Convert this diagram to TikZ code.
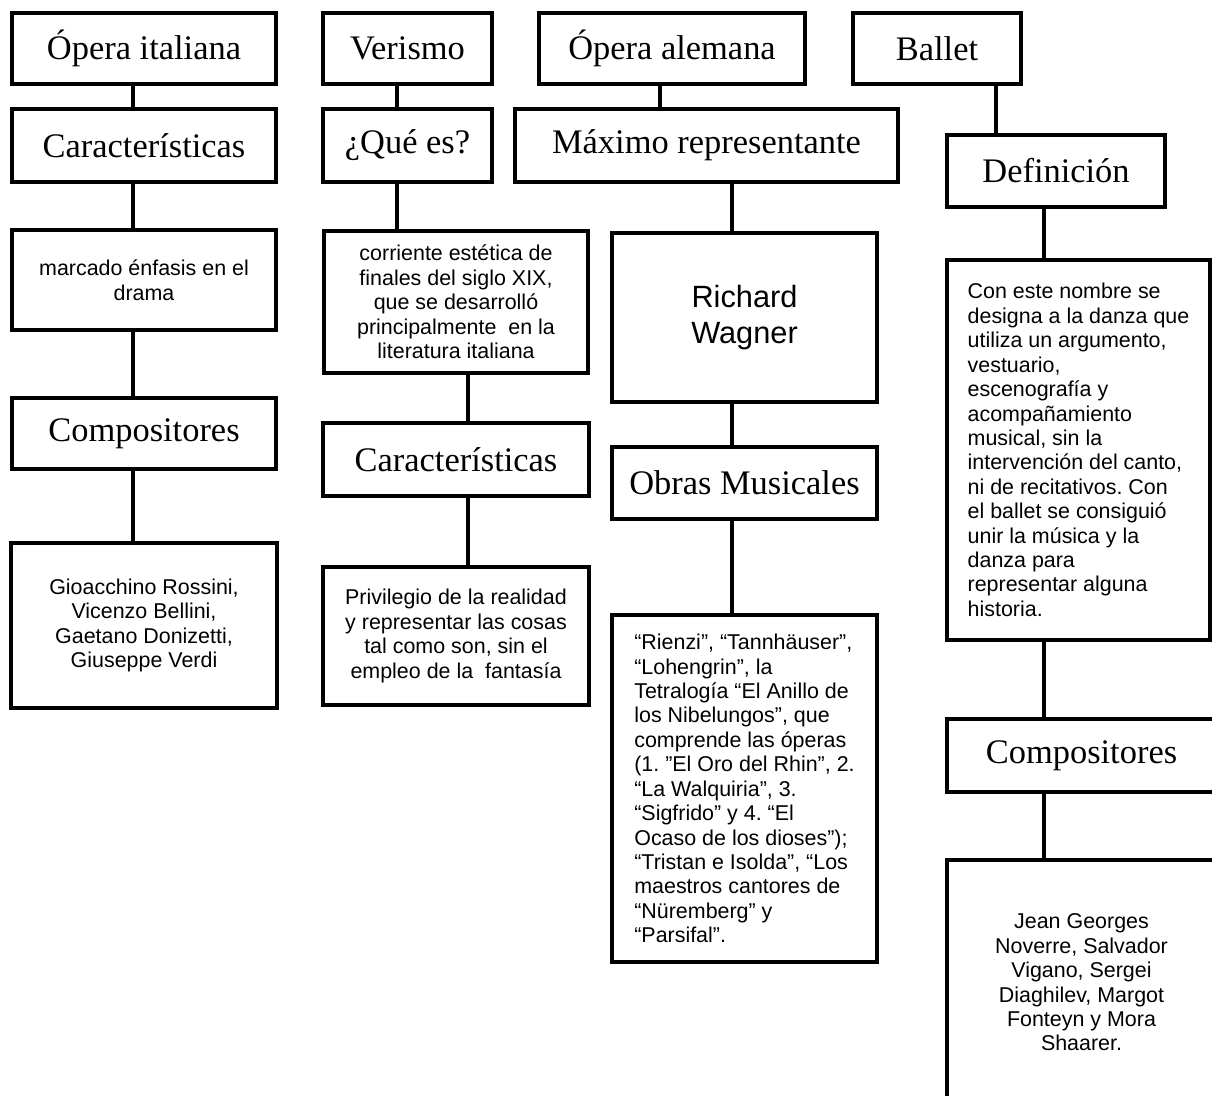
\documentclass[tikz,border=0pt]{standalone}
\usepackage{fontspec}
\setmainfont{Liberation Serif}
\setsansfont{Liberation Sans}
\usepackage{tikz}
\usetikzlibrary{shadows}
\pgfdeclarelayer{edgelayer}
\pgfdeclarelayer{nodelayer}
\pgfsetlayers{edgelayer,nodelayer,main}
\frenchspacing
\tikzstyle{head} = [draw, rectangle, line width=2.2pt, fill=white, inner sep=0pt, font=\fontsize{19.6}{23}\selectfont, drop shadow={shadow xshift=1.2pt, shadow yshift=-1.2pt, opacity=0.3}]
\tikzstyle{info} = [draw, rectangle, line width=2.2pt, fill=white, inner sep=0pt, align=center, font=\sffamily\fontsize{12.2}{13.9}\selectfont, drop shadow={shadow xshift=1.2pt, shadow yshift=-1.2pt, opacity=0.3}]
\tikzstyle{infoleft} = [info, align=left]
\tikzstyle{link} = [line width=2.2pt]

\begin{document}
\begin{tikzpicture}[x=0.02cm, y=-0.02cm]
	\useasboundingbox (0, 0) rectangle (1212, 1095);
	\begin{pgfonlayer}{nodelayer}
		\node [style=head, minimum width=5.28cm, minimum height=1.42cm] (0) at (144, 48.5) {Ópera italiana};
		\node [style=head, minimum width=3.38cm, minimum height=1.42cm] (1) at (407.5, 48.5) {Verismo};
		\node [style=head, minimum width=5.32cm, minimum height=1.42cm] (2) at (672, 48.5) {Ópera alemana};
		\node [style=head, minimum width=3.36cm, minimum height=1.42cm] (3) at (937, 48.5) {Ballet};
		\node [style=head, minimum width=5.28cm, minimum height=1.46cm] (4) at (144, 145.5) {Características};
		\node [style=head, minimum width=3.38cm, minimum height=1.46cm] (5) at (407.5, 145.5) {¿Qué es?};
		\node [style=head, minimum width=7.66cm, minimum height=1.46cm] (6) at (706.5, 145.5) {Máximo representante};
		\node [style=head, minimum width=4.36cm, minimum height=1.44cm] (7) at (1056, 171) {Definición};
		\node [style=info, minimum width=5.28cm, minimum height=2cm] (8) at (144, 280) {marcado énfasis en el\\drama};
		\node [style=info, minimum width=5.28cm, minimum height=2.84cm] (9) at (456, 302) {corriente estética de\\finales del siglo XIX,\\que se desarrolló\\principalmente\ \ en la\\literatura italiana};
		\node [style=info, minimum width=5.3cm, minimum height=3.38cm, font=\sffamily\fontsize{17.5}{21}\selectfont] (10) at (744.5, 317.5) {Richard\\Wagner};
		\node [style=infoleft, minimum width=5.26cm, minimum height=7.6cm] (11) at (1078.5, 450) {Con este nombre se\\designa a la danza que\\utiliza un argumento,\\vestuario,\\escenografía y\\acompañamiento\\musical, sin la\\intervención del canto,\\ni de recitativos. Con\\el ballet se consiguió\\unir la música y la\\danza para\\representar alguna\\historia.};
		\node [style=head, minimum width=5.28cm, minimum height=1.42cm] (12) at (144, 433.5) {Compositores};
		\node [style=head, minimum width=5.32cm, minimum height=1.46cm] (13) at (456, 459.5) {Características};
		\node [style=head, minimum width=5.3cm, minimum height=1.44cm] (14) at (744.5, 483) {Obras Musicales};
		\node [style=head, minimum width=5.38cm, minimum height=1.46cm] (15) at (1081.5, 755.5) {Compositores};
		\node [style=info, minimum width=5.32cm, minimum height=3.3cm] (16) at (144, 625.5) {Gioacchino Rossini,\\Vicenzo Bellini,\\Gaetano Donizetti,\\Giuseppe Verdi};
		\node [style=info, minimum width=5.32cm, minimum height=2.76cm] (17) at (456, 636) {Privilegio de la realidad\\y representar las cosas\\tal como son, sin el\\empleo de la\ \ fantasía};
		\node [style=infoleft, minimum width=5.3cm, minimum height=6.94cm] (18) at (744.5, 788.5) {“Rienzi”, “Tannhäuser”,\\“Lohengrin”, la\\Tetralogía “El Anillo de\\los Nibelungos”, que\\comprende las óperas\\(1. ”El Oro del Rhin”, 2.\\“La Walquiria”, 3.\\“Sigfrido” y 4. “El\\Ocaso de los dioses”);\\“Tristan e Isolda”, “Los\\maestros cantores de\\“Nüremberg” y\\“Parsifal”.};
		\node [style=info, minimum width=5.38cm, minimum height=4.9cm] (19) at (1081.5, 982.5) {Jean Georges\\Noverre, Salvador\\Vigano, Sergei\\Diaghilev, Margot\\Fonteyn y Mora\\Shaarer.};
	\end{pgfonlayer}
	\begin{pgfonlayer}{edgelayer}
		\draw [style=link] (0.south -| 133,0) to (4.north -| 133,0);
		\draw [style=link] (4.south -| 133,0) to (8.north -| 133,0);
		\draw [style=link] (8.south -| 133,0) to (12.north -| 133,0);
		\draw [style=link] (12.south -| 133,0) to (16.north -| 133,0);
		\draw [style=link] (1.south -| 397,0) to (5.north -| 397,0);
		\draw [style=link] (5.south -| 397,0) to (9.north -| 397,0);
		\draw [style=link] (9.south -| 468,0) to (13.north -| 468,0);
		\draw [style=link] (13.south -| 468,0) to (17.north -| 468,0);
		\draw [style=link] (2.south -| 660,0) to (6.north -| 660,0);
		\draw [style=link] (6.south -| 732,0) to (10.north -| 732,0);
		\draw [style=link] (10.south -| 732,0) to (14.north -| 732,0);
		\draw [style=link] (14.south -| 732,0) to (18.north -| 732,0);
		\draw [style=link] (3.south -| 996,0) to (7.north -| 996,0);
		\draw [style=link] (7.south -| 1044,0) to (11.north -| 1044,0);
		\draw [style=link] (11.south -| 1044,0) to (15.north -| 1044,0);
		\draw [style=link] (15.south -| 1044,0) to (19.north -| 1044,0);
	\end{pgfonlayer}
\end{tikzpicture}
\end{document}
